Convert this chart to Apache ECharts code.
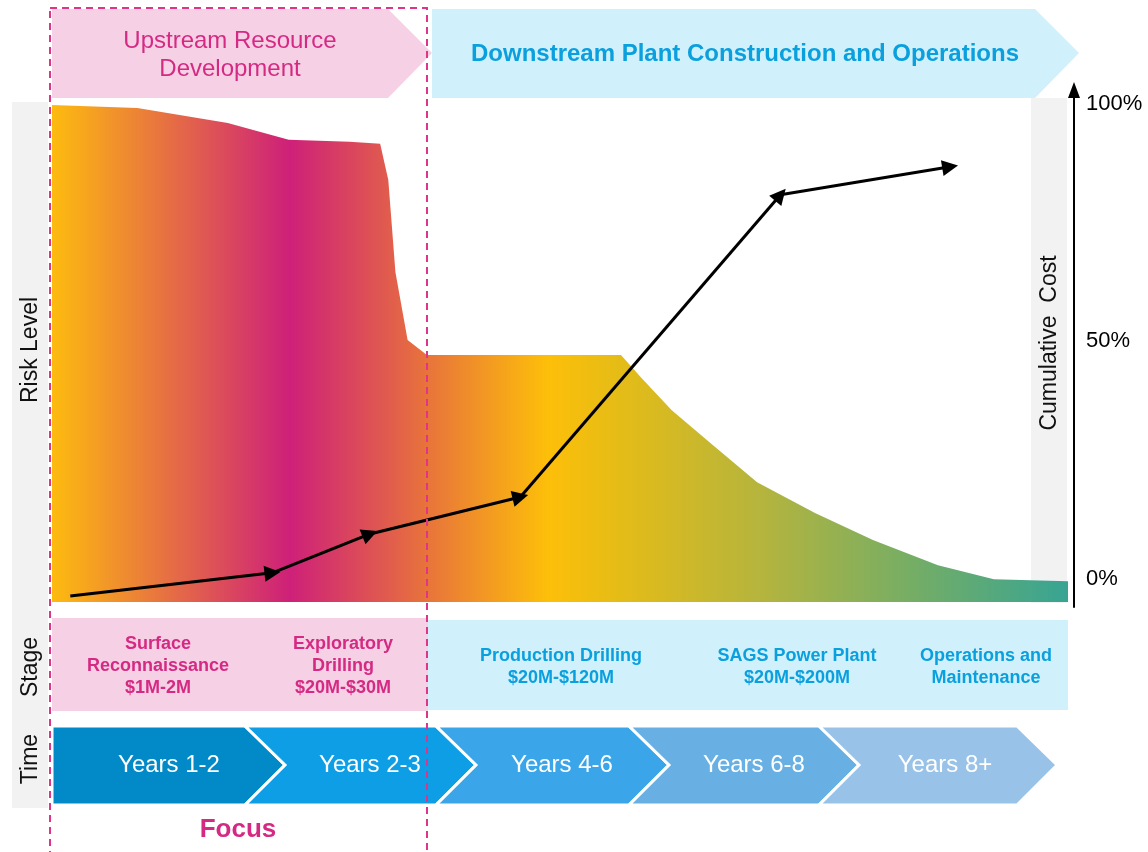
<!doctype html>
<html>
<head>
  <meta charset="UTF-8" />
  <title>Geothermal project risk and cumulative cost</title>
  <script src="https://cdn.jsdelivr.net/npm/echarts@6/dist/echarts.min.js"></script>
  <style>
    html, body { margin: 0; padding: 0; background: #fff; }
    #chart { width: 1148px; height: 852px; }
  </style>
</head>
<body>
  <div id="chart"></div>
  <script>
    // risk level profile (x = project timeline 0-100, y = risk 0-100)
    const riskX = [0, 8.4, 17.3, 23.3, 29.3, 32.3, 33.1, 33.8, 35.0, 36.9, 56.0, 58.0, 61.0, 64.8, 69.4, 75.1, 80.8, 87.2, 92.7, 100];
    const riskY = [100, 99.4, 96.4, 93.0, 92.6, 92.2, 84.9, 66.4, 52.7, 49.7, 49.7, 45.1, 38.6, 32.0, 24.1, 17.9, 12.5, 7.4, 4.6, 4.2];
    // cumulative cost path (%)
    const costX = [1.8, 21.7, 31.3, 46.1, 71.7, 88.4];
    const costY = [-3.7, 1.2, 9.4, 17.2, 80.9, 86.8];
    const costTicks = [0, 50, 100];
    const costTickLabels = ['0%', '50%', '100%'];

    const phases = ['Upstream Resource\nDevelopment', 'Downstream Plant Construction and Operations'];
    const stages = ['Surface\nReconnaissance\n$1M-2M', 'Exploratory\nDrilling\n$20M-$30M',
      'Production Drilling\n$20M-$120M', 'SAGS Power Plant\n$20M-$200M', 'Operations and\nMaintenance'];
    const years = ['Years 1-2', 'Years 2-3', 'Years 4-6', 'Years 6-8', 'Years 8+'];
    const sideLabels = ['Risk Level', 'Stage', 'Time'];

    const FONT = '"Liberation Sans", Arial, sans-serif';
    const PINK = '#F6D0E5', BLUE = '#D0F0FC', MAGENTA = '#D42A83', CYAN = '#0A9FDD';

    const chart = echarts.init(document.getElementById('chart'));

    function txt(x, y, text, size, color, opts = {}) {
      return {
        type: 'text', x, y, rotation: opts.rotation || 0, z: opts.z || 10,
        style: {
          text, fill: color, fontSize: size, fontWeight: opts.bold ? 'bold' : 'normal', fontFamily: FONT,
          align: 'center', verticalAlign: 'middle', textAlign: 'center', textVerticalAlign: 'middle',
          lineHeight: opts.lineHeight || size * 1.2
        }
      };
    }

    const g = [];
    // gray side panels
    g.push({ type: 'rect', z: 0, shape: { x: 12, y: 102, width: 36, height: 706 }, style: { fill: '#F2F2F2' } });
    g.push({ type: 'rect', z: 0, shape: { x: 1031, y: 98, width: 36, height: 505 }, style: { fill: '#F2F2F2' } });
    g.push(txt(31, 350, sideLabels[0], 23, '#111', { rotation: Math.PI / 2 }));
    g.push(txt(31, 667, sideLabels[1], 23, '#111', { rotation: Math.PI / 2 }));
    g.push(txt(31, 759, sideLabels[2], 23, '#111', { rotation: Math.PI / 2 }));
    g.push(txt(1050, 343, 'Cumulative  Cost', 23, '#111', { rotation: Math.PI / 2 }));

    // phase chevrons
    g.push({ type: 'polygon', z: 0, shape: { points: [[52, 9], [388, 9], [432, 53], [388, 98], [52, 98]] }, style: { fill: PINK } });
    g.push({ type: 'polygon', z: 0, shape: { points: [[432, 9], [1035, 9], [1079, 53], [1035, 98], [432, 98]] }, style: { fill: BLUE } });
    g.push(txt(230, 55, phases[0], 24, MAGENTA, { lineHeight: 28 }));
    g.push(txt(745, 54, phases[1], 24, CYAN, { bold: true }));

    // stage boxes
    g.push({ type: 'rect', z: 0, shape: { x: 52, y: 618, width: 376, height: 93 }, style: { fill: PINK } });
    g.push({ type: 'rect', z: 0, shape: { x: 428, y: 620, width: 640, height: 90 }, style: { fill: BLUE } });
    const stageX = [158, 343, 561, 797, 986];
    stages.forEach((s, i) => {
      g.push(txt(stageX[i], i < 2 ? 666 : 667, s, 18, i < 2 ? MAGENTA : CYAN, { bold: true, lineHeight: 22 }));
    });

    // time chevrons
    const chevStart = [52, 245, 436, 629, 819];
    const chevEnd = [245, 436, 629, 819, 1017];
    const chevColor = ['#0289C7', '#0D9EE5', '#3AA6E9', '#68B0E4', '#98C2E7'];
    const yearX = [169, 370, 562, 754, 945];
    years.forEach((y, i) => {
      const x0 = chevStart[i], x1 = chevEnd[i];
      const pts = [[x0, 726], [x1, 726], [x1 + 40, 765], [x1, 805], [x0, 805]];
      if (i > 0) pts.push([x0 + 40, 765]);
      g.push({ type: 'polygon', z: 1, shape: { points: pts }, style: { fill: chevColor[i], stroke: '#fff', lineWidth: 3 } });
      g.push(txt(yearX[i], 765, y, 24, '#fff'));
    });

    // focus box
    g.push({ type: 'rect', z: 100, shape: { x: 50, y: 8, width: 377, height: 900 },
      style: { fill: 'none', stroke: '#E0338A', lineWidth: 2, lineDash: [7, 5] } });
    g.push(txt(238, 830, 'Focus', 26, MAGENTA, { bold: true }));

    const segments = [];
    for (let i = 0; i < costX.length - 1; i++) {
      segments.push({ coords: [[costX[i], costY[i]], [costX[i + 1], costY[i + 1]]] });
    }

    chart.setOption({
      backgroundColor: '#fff',
      animation: false,
      textStyle: { fontFamily: FONT },
      grid: [
        { left: 52, right: 80, top: 105, bottom: 250 },
        { left: 52, right: 80, top: 90, bottom: 245 }
      ],
      xAxis: [
        { type: 'value', gridIndex: 0, min: 0, max: 100, show: false },
        { type: 'value', gridIndex: 1, min: 0, max: 100, show: false }
      ],
      yAxis: [
        { type: 'value', gridIndex: 0, min: 0, max: 100, show: false },
        {
          type: 'value', gridIndex: 1, position: 'right', offset: 6, min: -6, max: 103,
          splitLine: { show: false }, axisTick: { show: false },
          axisLine: { show: true, onZero: false, lineStyle: { color: '#000', width: 2 }, symbol: ['none', 'triangle'], symbolSize: [12, 16] },
          axisLabel: {
            customValues: costTicks, margin: 12, fontSize: 22, color: '#000', fontFamily: FONT,
            formatter: v => costTickLabels[costTicks.indexOf(v)]
          }
        }
      ],
      graphic: { elements: g },
      series: [
        {
          type: 'line', xAxisIndex: 0, yAxisIndex: 0, symbol: 'none', silent: true, z: 2,
          data: riskX.map((x, i) => [x, riskY[i]]),
          lineStyle: { width: 0 },
          areaStyle: {
            opacity: 1,
            color: new echarts.graphic.LinearGradient(0, 0, 1, 0, [
              { offset: 0, color: '#FDBB0F' },
              { offset: 0.234, color: '#CE2079' },
              { offset: 0.37, color: '#E8743B' },
              { offset: 0.488, color: '#FDBF09' },
              { offset: 0.56, color: '#E4BC17' },
              { offset: 0.70, color: '#B4B43E' },
              { offset: 0.835, color: '#7AAE62' },
              { offset: 1, color: '#37A493' }
            ])
          }
        },
        {
          type: 'lines', coordinateSystem: 'cartesian2d', xAxisIndex: 1, yAxisIndex: 1, z: 5, silent: true,
          data: segments,
          symbol: ['none', 'triangle'], symbolSize: 16,
          lineStyle: { color: '#000', width: 3, opacity: 1 }
        }
      ]
    });
  </script>
</body>
</html>
